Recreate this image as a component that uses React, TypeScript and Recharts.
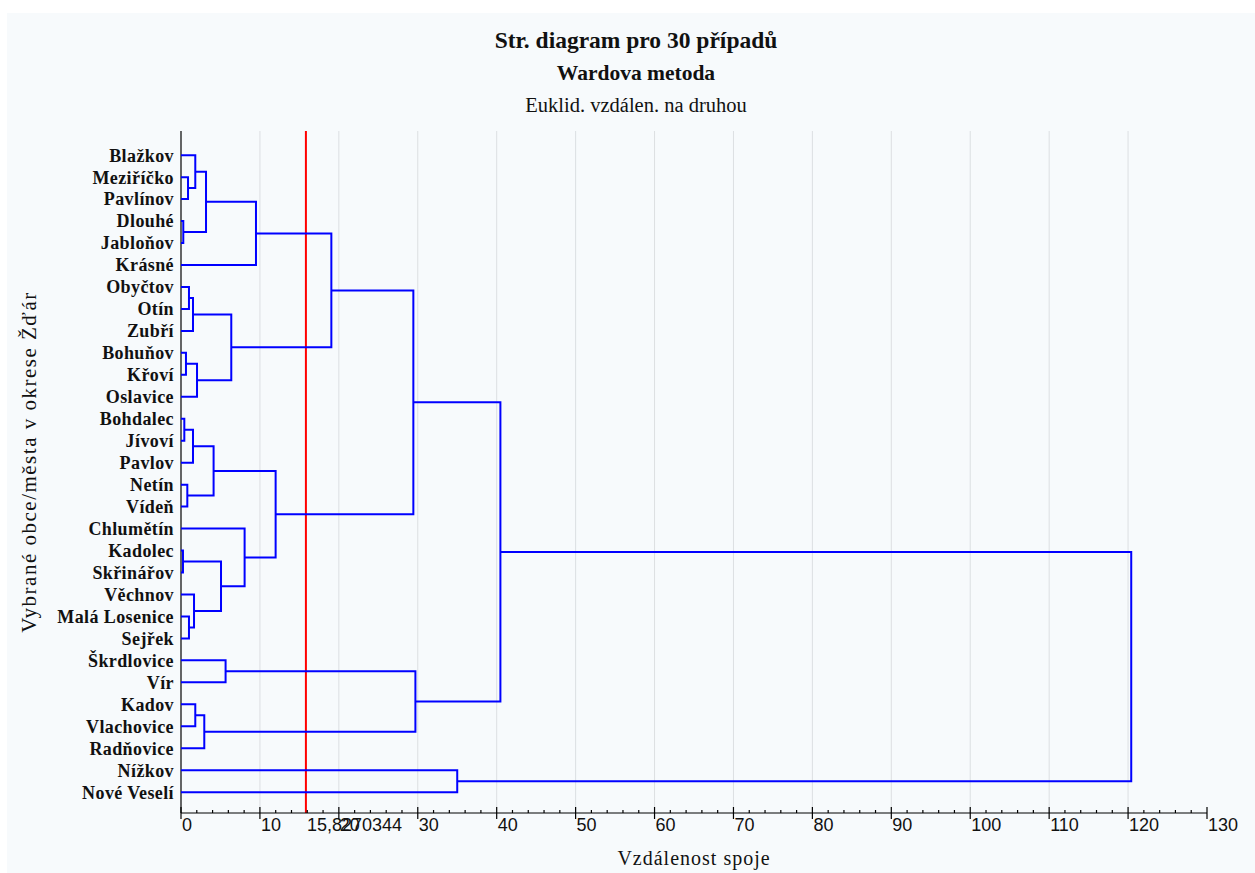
import { ScatterChart, Scatter, XAxis, YAxis, ReferenceLine } from 'recharts';

// leaf order from top to bottom
const leaves = [
  'Blažkov', 'Meziříčko', 'Pavlínov', 'Dlouhé', 'Jabloňov', 'Krásné',
  'Obyčtov', 'Otín', 'Zubří', 'Bohuňov', 'Křoví', 'Oslavice',
  'Bohdalec', 'Jívoví', 'Pavlov', 'Netín', 'Vídeň', 'Chlumětín',
  'Kadolec', 'Skřinářov', 'Věchnov', 'Malá Losenice', 'Sejřek',
  'Škrdlovice', 'Vír', 'Kadov', 'Vlachovice', 'Radňovice',
  'Nížkov', 'Nové Veselí',
];

// [left, right, distance]; ids below 30 are leaves, 30 + k is the cluster made by row k
const merges: [number, number, number][] = [
  [3, 4, 0.29],
  [1, 2, 0.89],
  [0, 31, 1.81],
  [32, 30, 3.17],
  [33, 5, 9.5],
  [6, 7, 1.01],
  [35, 8, 1.52],
  [9, 10, 0.63],
  [37, 11, 2.03],
  [36, 38, 6.37],
  [34, 39, 19.05],
  [12, 13, 0.42],
  [41, 14, 1.52],
  [15, 16, 0.8],
  [42, 43, 4.13],
  [18, 19, 0.25],
  [21, 22, 1.01],
  [20, 46, 1.65],
  [45, 47, 5.07],
  [17, 48, 8.06],
  [44, 49, 11.99],
  [40, 50, 29.44],
  [23, 24, 5.65],
  [25, 26, 1.81],
  [53, 27, 2.95],
  [52, 54, 29.7],
  [51, 55, 40.47],
  [28, 29, 35.0],
  [56, 57, 120.4],
];

const cutDistance = 15.8270344;
const majorTicks = [0, 10, 20, 30, 40, 50, 60, 70, 80, 90, 100, 110, 120, 130];
const gridValues = [10, 20, 30, 40, 50, 60, 70, 80, 90, 100, 110, 120];

const title = 'Str. diagram pro 30 případů';
const subtitle = 'Wardova metoda';
const subtitle2 = 'Euklid. vzdálen. na druhou';
const xTitle = 'Vzdálenost spoje';
const yTitle = 'Vybrané obce/města v okrese Žďár';

// position and height of every node
const pos: number[] = leaves.map((_, i) => i);
const height: number[] = leaves.map(() => 0);
merges.forEach(([a, b, h]) => {
  pos.push((pos[a] + pos[b]) / 2);
  height.push(h);
});

const links = merges.map(([a, b, h]) => [
  { x: height[a], y: pos[a] },
  { x: h, y: pos[a] },
  { x: h, y: pos[b] },
  { x: height[b], y: pos[b] },
]);

const minorTicks: number[] = [];
for (let v = 0; v <= 130; v += 2) minorTicks.push(v);
const bottomTicks = [...minorTicks, ...majorTicks.filter((v) => v % 2 !== 0), cutDistance].sort((p, q) => p - q);
const topTicks: number[] = [];
for (let v = 2.5; v < 130; v += 5) topTicks.push(v);

const sans = '"Liberation Sans", Arial, sans-serif';
const serif = '"Liberation Serif", "Times New Roman", serif';

const fmt = (v: number) => String(v).replace('.', ',');

const BottomTick = (props: any) => {
  const { x, y, payload } = props;
  const v = payload.value as number;
  if (Math.abs(v - cutDistance) < 1e-6) {
    return (
      <text x={x + 1} y={y + 18} fontFamily={sans} fontSize={18} fill="#111">
        {fmt(v)}
      </text>
    );
  }
  const major = majorTicks.includes(v);
  return (
    <g>
      <line x1={x} x2={x} y1={major ? y - 6 : y - 3} y2={major ? y + 6 : y} stroke="#000" strokeWidth={1.2} />
      {major && (
        <text x={x + 1} y={y + 18} fontFamily={sans} fontSize={18} fill="#111">
          {v}
        </text>
      )}
    </g>
  );
};

const TopTick = (props: any) => {
  const { x, y } = props;
  return <line x1={x} x2={x} y1={y} y2={y + 3} stroke="#000" strokeWidth={1.2} />;
};

const RightTick = (props: any) => {
  const { x, y } = props;
  return <line x1={x - 4} x2={x} y1={y} y2={y} stroke="#000" strokeWidth={1.2} />;
};

const noDot = () => <g />;

const App = () => {
  return (
    <div style={{ position: 'absolute', left: 0, top: 0, width: 1255, height: 873, background: '#fff' }}>
      <div style={{ position: 'absolute', left: 7, top: 13, right: 0, bottom: 0, background: '#f7fafc' }} />
      <svg width={1255} height={873} style={{ position: 'absolute', left: 0, top: 0 }}>
        <text x={636} y={48} textAnchor="middle" fontFamily={serif} fontWeight="bold" fontSize={23.5} fill="#111">
          {title}
        </text>
        <text x={636} y={80} textAnchor="middle" fontFamily={serif} fontWeight="bold" fontSize={21.5} fill="#111">
          {subtitle}
        </text>
        <text x={636} y={112} textAnchor="middle" fontFamily={serif} fontSize={20.5} fill="#111">
          {subtitle2}
        </text>
        <text x={694} y={865} textAnchor="middle" fontFamily={serif} fontSize={20} letterSpacing={1} fill="#111">
          {xTitle}
        </text>
        <text
          x={0}
          y={0}
          transform="translate(36 462) rotate(-90)"
          textAnchor="middle"
          fontFamily={serif}
          fontSize={21}
          letterSpacing={1.5}
          fill="#111"
        >
          {yTitle}
        </text>
      </svg>
      <div style={{ position: 'absolute', left: 0, top: 0 }}>
        <ScatterChart width={1255} height={873} margin={{ top: 131, right: 48, bottom: 0, left: 0 }}>
          <XAxis
            xAxisId={0}
            type="number"
            dataKey="x"
            domain={[0, 130]}
            ticks={bottomTicks}
            interval={0}
            height={60}
            tickSize={0}
            tickMargin={0}
            tickLine={false}
            axisLine={{ stroke: '#000', strokeWidth: 1.2 }}
            tick={<BottomTick />}
            allowDataOverflow
          />
          <XAxis
            xAxisId="top"
            orientation="top"
            type="number"
            domain={[0, 130]}
            ticks={topTicks}
            interval={0}
            height={0}
            tickSize={0}
            tickMargin={0}
            tickLine={false}
            axisLine={{ stroke: '#000', strokeWidth: 1.2 }}
            tick={<TopTick />}
          />
          <YAxis
            yAxisId={0}
            type="number"
            dataKey="y"
            domain={[-1.1, 29.95]}
            reversed
            ticks={leaves.map((_, i) => i)}
            interval={0}
            width={181}
            tickSize={0}
            tickMargin={7}
            tickLine={false}
            axisLine={{ stroke: '#000', strokeWidth: 1.2 }}
            tickFormatter={(i: number) => leaves[i] ?? ''}
            tick={{ fill: '#111', fontFamily: serif, fontWeight: 'bold', fontSize: 18, letterSpacing: 0.4 }}
            allowDataOverflow
          />
          <YAxis
            yAxisId="right"
            orientation="right"
            type="number"
            domain={[-1.1, 29.95]}
            reversed
            ticks={leaves.map((_, i) => i)}
            interval={0}
            width={0}
            tickSize={0}
            tickMargin={0}
            tickLine={false}
            axisLine={{ stroke: '#000', strokeWidth: 1.2 }}
            tick={<RightTick />}
          />
          {gridValues.map((v) => (
            <ReferenceLine key={'g' + v} x={v} stroke="#dcdfe2" strokeWidth={1} />
          ))}
          {links.map((pts, i) => (
            <Scatter
              key={i}
              data={pts}
              line={{ stroke: '#0000ff', strokeWidth: 2 }}
              lineType="joint"
              shape={noDot}
              isAnimationActive={false}
            />
          ))}
          <ReferenceLine x={cutDistance} stroke="#ff0000" strokeWidth={2} />
        </ScatterChart>
      </div>
    </div>
  );
};

export default App;
